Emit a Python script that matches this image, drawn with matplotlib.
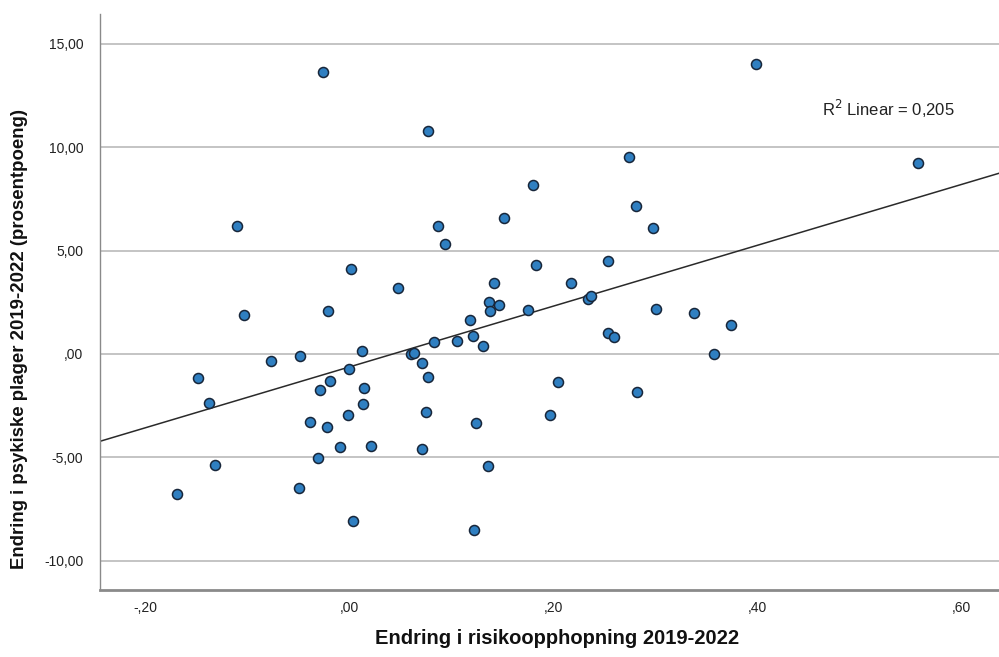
import numpy as np
import matplotlib
matplotlib.use("Agg")
import matplotlib.pyplot as plt

plt.rcParams['font.family'] = ['Liberation Sans', 'DejaVu Sans']

# Change in risk accumulation (x) and change in mental health complaints (y)
risk_change = [
    -0.025, -0.110, 0.002, 0.048, -0.021, -0.103, 0.077, 0.274, 0.180, 0.281,
    0.152, 0.087, 0.298, 0.094, 0.183, 0.254, 0.142, 0.218, 0.137, 0.147,
    0.234, 0.237, 0.138, 0.175, 0.301, 0.338, 0.399, 0.558, 0.013, -0.076,
    -0.048, 0.000, -0.148, -0.019, -0.028, 0.015, 0.014, -0.137, -0.001, -0.038,
    -0.022, -0.009, 0.022, -0.030, -0.131, -0.049, -0.169, 0.004, 0.119, 0.083,
    0.106, 0.122, 0.131, 0.254, 0.260, 0.061, 0.064, 0.072, 0.077, 0.205,
    0.282, 0.075, 0.197, 0.124, 0.072, 0.136, 0.123, 0.374, 0.358,
]
complaints_change = [
    13.66, 6.21, 4.10, 3.18, 2.09, 1.89, 10.80, 9.55, 8.18, 7.16,
    6.59, 6.21, 6.08, 5.31, 4.32, 4.51, 3.45, 3.42, 2.53, 2.36,
    2.65, 2.82, 2.09, 2.13, 2.16, 1.97, 14.02, 9.26, 0.15, -0.32,
    -0.10, -0.71, -1.16, -1.32, -1.74, -1.64, -2.42, -2.35, -2.97, -3.29,
    -3.55, -4.50, -4.45, -5.05, -5.39, -6.47, -6.77, -8.08, 1.64, 0.60,
    0.64, 0.89, 0.39, 1.00, 0.81, -0.01, 0.06, -0.45, -1.11, -1.35,
    -1.82, -2.79, -2.97, -3.34, -4.60, -5.43, -8.51, 1.39, -0.01,
]
x_ticks = [-0.2, 0.0, 0.2, 0.4, 0.6]
x_tick_labels = ['-,20', ',00', ',20', ',40', ',60']
y_ticks = [-10, -5, 0, 5, 10, 15]
y_tick_labels = ['-10,00', '-5,00', ',00', '5,00', '10,00', '15,00']
r2_label = 'R$^2$ Linear = 0,205'

x = np.array(risk_change)
y = np.array(complaints_change)

fig = plt.figure(figsize=(9.99, 6.57), dpi=100)
ax = fig.add_axes([100 / 999, 1 - 590 / 657, 899 / 999, 576 / 657])

xlim = (-0.244, 0.637)
ylim = (-11.42, 16.45)
ax.set_xlim(*xlim)
ax.set_ylim(*ylim)

# horizontal grid
for yt in y_ticks:
    ax.axhline(yt, color='#c4c4c4', lw=1.4, zorder=0)

# least-squares fit line across the full x range
slope, intercept = np.polyfit(x, y, 1)
xs = np.array(xlim)
ax.plot(xs, intercept + slope * xs, color='#2a2a2a', lw=1.1, zorder=2)

ax.scatter(x, y, s=52, facecolor='#2f7fc1', edgecolor='#17263a',
           linewidth=1.1, zorder=3)

ax.set_xticks(x_ticks)
ax.set_xticklabels(x_tick_labels, fontsize=10)
ax.set_yticks(y_ticks)
ax.set_yticklabels(y_tick_labels, fontsize=10)
ax.tick_params(axis='both', length=0, colors='#222222')
ax.tick_params(axis='x', pad=8)
ax.tick_params(axis='y', pad=12)

for side in ('top', 'right'):
    ax.spines[side].set_visible(False)
ax.spines['left'].set_color('#8a8a8a')
ax.spines['left'].set_linewidth(1.0)
ax.spines['bottom'].set_color('#8a8a8a')
ax.spines['bottom'].set_linewidth(2.0)

ax.text(0.803, 0.835, r2_label, transform=ax.transAxes, fontsize=12,
        ha='left', va='center', color='#222222')

fig.text(557 / 999, 1 - 639 / 657, 'Endring i risikoopphopning 2019-2022',
         ha='center', va='center', fontsize=14.5, fontweight='bold',
         color='#111111')
fig.text(20 / 999, 1 - 339 / 657,
         'Endring i psykiske plager 2019-2022 (prosentpoeng)',
         ha='center', va='center', rotation=90, fontsize=13.4,
         fontweight='bold', color='#111111')

fig.savefig('out.png', dpi=100)
